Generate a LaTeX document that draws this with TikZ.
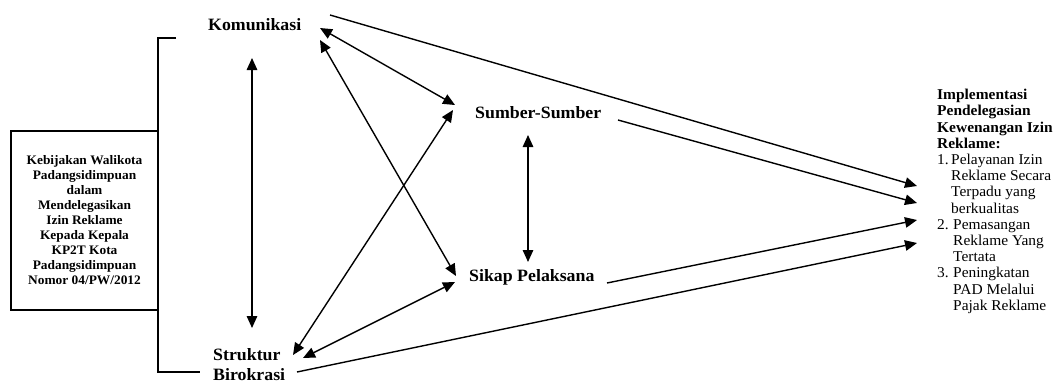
\documentclass[tikz,border=0pt]{standalone}
\usepackage{fontspec}
\setmainfont{Liberation Serif}[FakeStretch=1.03]
\usetikzlibrary{arrows.meta}
\begin{document}
\begin{tikzpicture}[x=1pt,y=-1pt,
  conn/.style={line width=1.4pt},
  dbl/.style={conn,{Triangle[length=12pt,width=10.5pt]}-{Triangle[length=12pt,width=10.5pt]}},
  sgl/.style={conn,-{Triangle[length=12pt,width=10.5pt]}},
  lbl/.style={inner sep=0pt, anchor=west, align=left, font=\bfseries\fontsize{17.3}{20}\selectfont},
  kbox/.style={draw, line width=1.1pt, outer sep=0pt, minimum width=147pt, minimum height=179pt,
    align=center, font=\bfseries\fontsize{13}{15}\selectfont},
  impltext/.style={inner sep=0pt, anchor=north west, align=left, font=\fontsize{15}{16.2}\selectfont}]
\useasboundingbox (0,0) rectangle (1056,383);

\node[kbox] (keb) at (84.5,220.5) {Kebijakan Walikota\\Padangsidimpuan\\dalam\\Mendelegasikan\\Izin Reklame\\Kepada Kepala\\KP2T Kota\\Padangsidimpuan\\Nomor 04/PW/2012};

\node[lbl] (kom) at (208,25) {Komunikasi};
\node[lbl] (sum) at (475,113) {Sumber-Sumber};
\node[lbl] (sik) at (469,277) {Sikap Pelaksana};
\node[lbl] (str) at (213,365) {Struktur\\Birokrasi};

\node[impltext] (impl) at (937,89) {\textbf{Implementasi}\\
\textbf{Pendelegasian}\\
\textbf{Kewenangan Izin}\\
\textbf{Reklame:}\\
\makebox[14pt][l]{1.}Pelayanan Izin\\
\hspace*{14pt}Reklame Secara\\
\hspace*{14pt}Terpadu yang\\
\hspace*{14pt}berkualitas\\
\makebox[16pt][l]{2.}Pemasangan\\
\hspace*{16pt}Reklame Yang\\
\hspace*{16pt}Tertata\\
\makebox[16pt][l]{3.}Peningkatan\\
\hspace*{16pt}PAD Melalui\\
\hspace*{16pt}Pajak Reklame};

% bracket
\coordinate (bt) at (176,38);
\coordinate (bb) at (200,372);
\draw[conn] (bt) -| (keb.east) |- (bb);

% double arrows
\draw[dbl] ([shift={(44,33)}]kom.west) -- ([shift={(39,-37)}]str.west);
\draw[dbl] ([shift={(112,3)}]kom.west) -- ([shift={(-20,-8)}]sum.west);
\draw[dbl] ([shift={(112,15)}]kom.west) -- ([shift={(-13,-1)}]sik.west);
\draw[dbl] ([shift={(80,-10)}]str.west) -- ([shift={(-22,-3)}]sum.west);
\draw[dbl] ([shift={(90,-7)}]str.west) -- ([shift={(-14,5)}]sik.west);
\draw[dbl] ([shift={(53,22)}]sum.west) -- ([shift={(59,-15)}]sik.west);

% arrows to outcome
\draw[sgl] ([shift={(122,-10)}]kom.west) -- ([shift={(-20,97)}]impl.north west);
\draw[sgl] ([shift={(143,7)}]sum.west) -- ([shift={(-20,114)}]impl.north west);
\draw[sgl] ([shift={(138,6)}]sik.west) -- ([shift={(-20,131)}]impl.north west);
\draw[sgl] ([shift={(84,7)}]str.west) -- ([shift={(-20,154)}]impl.north west);
\end{tikzpicture}
\end{document}
